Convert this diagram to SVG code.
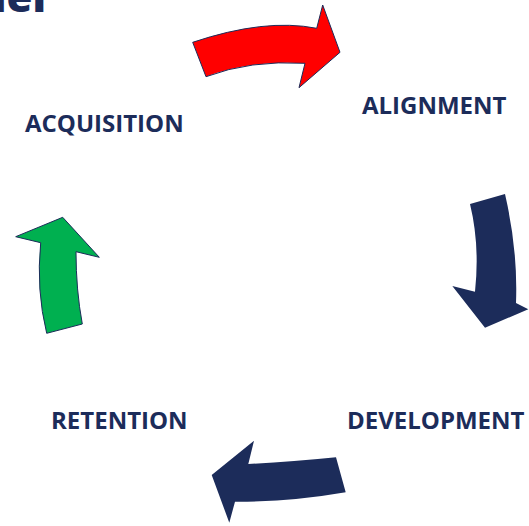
<svg xmlns="http://www.w3.org/2000/svg" width="529" height="526" viewBox="0 0 529 526">
  <style>
    .label { font-family: "Open Sans", "Liberation Sans", sans-serif; font-weight: 700; font-size: 24px; fill: #1C2C5A; }
    .title { font-family: "Open Sans", "Liberation Sans", sans-serif; font-weight: 800; font-size: 42px; fill: #1C2C5A; }
    .arrow-navy { fill: #1C2C5A; }
    .arrow-red { fill: #FF0000; stroke: #1C2C5A; stroke-width: 1; stroke-linejoin: round; }
    .arrow-green { fill: #00B050; stroke: #1C2C5A; stroke-width: 1; stroke-linejoin: round; }
  </style>
  <rect width="529" height="526" fill="#FFFFFF"/>

  <!-- heading, clipped at the top edge -->
  <text class="title" x="46" y="12" text-anchor="end">Model</text>

  <g id="node-acquisition">
    <text class="label" x="25" y="132">ACQUISITION</text>
  </g>
  <g id="node-alignment">
    <text class="label" x="362" y="114">ALIGNMENT</text>
  </g>
  <g id="node-development">
    <text class="label" x="347" y="429">DEVELOPMENT</text>
  </g>
  <g id="node-retention">
    <text class="label" x="51" y="429">RETENTION</text>
  </g>

  <g id="connectors">
    <!-- acquisition to alignment -->
    <path class="arrow-red" d="M192.7,42.3 Q265,18 316.7,28.3 L322.7,5 L340,52.3 L299,87.7 L305,63.3 Q250,60 206,76.7 Z"/>
    <!-- alignment to development -->
    <path class="arrow-navy" d="M470,204 L505,194 Q518,250 516,303 L528.3,309.3 L485,327.7 L452.3,286 L475,291.7 Q480,245 470,204 Z"/>
    <!-- development to retention -->
    <path class="arrow-navy" d="M336,457.3 L345.7,492.3 Q290,502 235,501.7 L229.3,522.7 L211.7,475 L254,440.7 L248.3,464 Q290,462 336,457.3 Z"/>
    <!-- retention to acquisition -->
    <path class="arrow-green" d="M46.7,333.3 L82.3,324 Q76,290 76,251.7 L99.3,257.3 L62.7,217.3 L15.7,236.7 L40.7,242.7 Q36,290 46.7,333.3 Z"/>
  </g>
</svg>
